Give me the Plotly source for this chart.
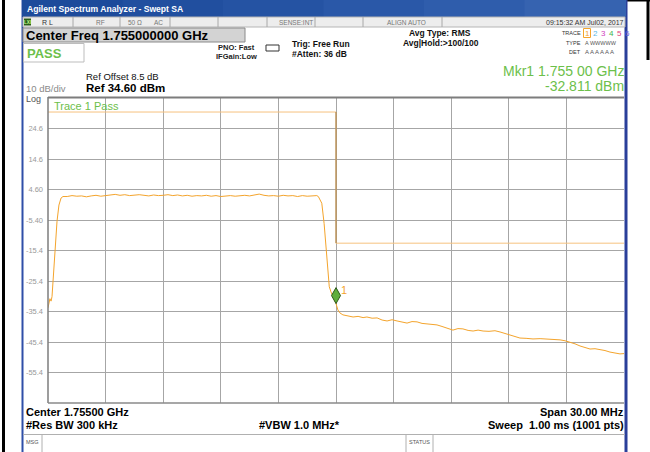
import plotly.graph_objects as go

# ---------------- data ----------------
freq_mhz = [
    1740.00, 1740.05, 1740.10, 1740.16, 1740.21, 1740.26, 1740.36, 1740.47, 1740.57, 1740.68, 1740.78,
    1741.00, 1741.25, 1741.50, 1741.75, 1742.00, 1742.25, 1742.50, 1742.75, 1743.00, 1743.25,
    1743.50, 1743.75, 1744.00, 1744.25, 1744.50, 1744.75, 1745.00, 1745.25, 1745.50, 1745.75,
    1746.00, 1746.25, 1746.50, 1746.75, 1747.00, 1747.25, 1747.50, 1747.75, 1748.00, 1748.25,
    1748.50, 1748.75, 1749.00, 1749.25, 1749.50, 1749.75, 1750.00, 1750.25, 1750.50, 1750.75,
    1751.00, 1751.25, 1751.50, 1751.75, 1752.00, 1752.25, 1752.50, 1752.75, 1753.00, 1753.25,
    1753.50, 1753.75, 1754.00, 1754.08, 1754.17, 1754.26, 1754.38, 1754.48, 1754.55, 1754.65,
    1754.74, 1754.86, 1755.00, 1755.10, 1755.21,
    1755.36, 1755.63, 1755.89, 1756.15, 1756.41, 1756.61, 1756.88, 1757.14, 1757.40, 1757.66,
    1757.92, 1758.18, 1758.44, 1758.70, 1758.96, 1759.22, 1759.48, 1759.74, 1760.00, 1760.26,
    1760.52, 1760.78, 1761.09, 1761.35, 1761.61, 1761.88, 1762.14, 1762.40, 1762.66, 1762.97,
    1763.28, 1763.54, 1763.80, 1764.06, 1764.32, 1764.58, 1764.90, 1765.26, 1765.63, 1765.99,
    1766.30, 1766.67, 1766.93, 1767.19, 1767.45, 1767.71, 1767.97, 1768.23, 1768.49, 1768.75,
    1769.01, 1769.27, 1769.53, 1769.79, 1770.00,
]
level_dbm = [
    -34.2, -31.8, -31.2, -32.0, -30.5, -25.7, -15.0, -5.8, -0.5, 1.8, 2.3,
    2.3, 2.6, 2.4, 2.5, 2.2, 2.5, 2.7, 2.4, 2.6, 2.8,
    3.0, 2.7, 2.9, 2.6, 2.8, 2.9, 2.7, 2.5, 2.8, 2.6,
    2.7, 2.9, 2.6, 2.8, 2.5, 2.7, 2.4, 2.6, 2.5, 2.7,
    2.4, 2.6, 2.3, 2.5, 2.6, 2.4, 2.6, 2.7, 2.5, 2.8,
    3.1, 2.7, 2.5, 2.6, 2.4, 2.7, 2.5, 2.6, 2.3, 2.6,
    2.4, 2.5, 2.6, 2.3, 1.2, 0.1, -6.5, -14.2, -21.8, -27.3,
    -29.0, -30.5, -32.8, -34.9, -35.9,
    -36.5, -36.9, -37.2, -37.0, -37.4, -37.2, -37.6, -37.5, -38.2, -38.5,
    -38.1, -38.5, -38.9, -39.2, -38.7, -38.8, -39.3, -39.5, -39.6, -39.8,
    -40.3, -40.8, -41.5, -41.0, -41.1, -41.6, -41.8, -41.5, -41.8, -41.9,
    -41.7, -42.1, -42.6, -43.1, -43.6, -44.1, -44.2, -44.4, -44.3, -44.4,
    -44.6, -44.7, -45.0, -45.4, -46.0, -46.7, -47.3, -47.7, -47.6, -47.8,
    -48.2, -48.7, -48.9, -49.3, -49.2,
]
limit_freq_mhz = [1740.0, 1755.0, 1755.0, 1770.0]
limit_level_dbm = [30.0, 30.0, -13.0, -13.0]
marker_freq_mhz = 1755.00
marker_level_dbm = -32.811

ref_level = 34.6
db_per_div = 10
y_tick_vals = [24.6, 14.6, 4.6, -5.4, -15.4, -25.4, -35.4, -45.4, -55.4]
y_tick_text = ["24.6", "14.6", "4.60", "-5.40", "-15.4", "-25.4", "-35.4", "-45.4", "-55.4"]
center_ghz = 1.755
span_ghz = 0.030

# ---------------- figure ----------------
W, H = 650, 452
L, R, T, B = 48, 26, 98, 49
PW, PH = W - L - R, H - T - B
FONT = "Liberation Sans, Arial, sans-serif"

def X(px):
    return (px - L) / PW

def Y(py):
    return (H - B - py) / PH

fig = go.Figure()

fig.add_trace(go.Scatter(
    x=[f / 1000 for f in limit_freq_mhz], y=limit_level_dbm, mode="lines",
    line=dict(color="#f6c27e", width=1), hoverinfo="skip"))
fig.add_trace(go.Scatter(
    x=[limit_freq_mhz[1] / 1000, limit_freq_mhz[2] / 1000],
    y=[limit_level_dbm[1], limit_level_dbm[2]], mode="lines",
    line=dict(color="#a07c48", width=1), hoverinfo="skip"))
fig.add_trace(go.Scatter(
    x=[f / 1000 for f in freq_mhz], y=level_dbm, mode="lines",
    line=dict(color="#f4a42c", width=1), hoverinfo="skip"))

shapes = []
ann = []

def rect(x0, y0, x1, y1, fill=None, line=None, lw=1, layer="above"):
    shapes.append(dict(type="rect", xref="paper", yref="paper",
                       x0=X(x0), x1=X(x1), y0=Y(y0), y1=Y(y1),
                       fillcolor=fill if fill else "rgba(0,0,0,0)",
                       line=dict(color=line if line else "rgba(0,0,0,0)", width=lw if line else 0),
                       layer=layer))

def hline(x0, x1, y, color, lw=1):
    shapes.append(dict(type="line", xref="paper", yref="paper", x0=X(x0), x1=X(x1),
                       y0=Y(y), y1=Y(y), line=dict(color=color, width=lw)))

def vline(x, y0, y1, color, lw=1):
    shapes.append(dict(type="line", xref="paper", yref="paper", x0=X(x), x1=X(x),
                       y0=Y(y0), y1=Y(y1), line=dict(color=color, width=lw)))

def txt(x, y, s, size, color="#000000", bold=False, anchor="left", family=FONT):
    ann.append(dict(x=X(x), y=Y(y), xref="paper", yref="paper",
                    text=("<b>%s</b>" % s) if bold else s, showarrow=False,
                    xanchor=anchor, yanchor="middle", borderpad=0,
                    font=dict(size=size, color=color, family=family)))

# outer black frame lines
vline(3.5, 0, 452, "#000000", 3)
vline(648, 0, 60, "#000000", 3)
hline(627, 650, 0.5, "#000000", 2)

# window borders
vline(22.5, 0, 452, "#2f4fa8", 2)
vline(626, 0, 452, "#2a3f9a", 3)

# title bar gradient
cols = ["#1d4b9b", "#214f9f", "#2553a3", "#2a58a8", "#2f5dac", "#3663b0"]
seg = (625 - 22) / len(cols)
for i, c in enumerate(cols):
    rect(22 + i * seg, 0, 22 + (i + 1) * seg + 1, 17, fill=c)
txt(26, 9, "Agilent Spectrum Analyzer - Swept SA", 8.6, "#ffffff", bold=True)

# status row
rect(23, 17, 625, 27, fill="#ededed", line="#b5b5b5", lw=1)
for sx in [73, 120, 170, 218, 267, 315, 363, 442]:
    vline(sx, 17, 27, "#a8a8a8")
rect(24, 18.5, 31, 25.5, fill="#2c5e18")
txt(27.5, 22, "<b>LXI</b>", 4.5, "#c8ff90", anchor="center")
txt(41, 22, "R L", 7, "#333333")
txt(95, 22, "RF", 6.5, "#777777")
txt(127, 22, "50 \u03a9", 6.5, "#777777")
txt(153, 22, "AC", 6.5, "#777777")
txt(314, 22, "SENSE:INT", 6.5, "#777777", anchor="right")
txt(406, 22, "ALIGN AUTO", 6.5, "#777777", anchor="center")
txt(625, 22, "09:15:32 AM Jul02, 2017", 7, "#333333", anchor="right")

# center freq box
rect(23, 28, 245, 42, fill="#d3d3d3", line="#8a8a8a", lw=1)
txt(25, 35.5, "Center Freq 1.755000000 GHz", 13, "#000000", bold=True)

# PASS box
rect(23.5, 43.5, 84, 62, fill="#ffffff", line="#bdbdbd", lw=1)
txt(26, 53, "PASS", 13, "#6cc04a", bold=True)

txt(236, 47, "PNO: Fast", 7.5, "#222222", bold=True, anchor="center")
txt(236, 57, "IFGain:Low", 7.5, "#222222", bold=True, anchor="center")
# trigger icon
shapes.append(dict(type="path", xref="paper", yref="paper",
                   path="M %f %f L %f %f L %f %f L %f %f Z" % (X(266), Y(45), X(279), Y(45), X(279), Y(51), X(266), Y(51)),
                   line=dict(color="#333333", width=1), fillcolor="rgba(0,0,0,0)"))
txt(291, 44, "Trig: Free Run", 8.5, "#111111", bold=True)
txt(291, 54, "#Atten: 36 dB", 8.5, "#111111", bold=True)
txt(440, 33, "Avg Type: RMS", 8.5, "#111111", bold=True, anchor="center")
txt(441, 43, "Avg|Hold:&gt;100/100", 8.5, "#111111", bold=True, anchor="center")

# trace/type/det block
txt(582, 33, "TRACE", 5.5, "#333333", anchor="right")
txt(582, 43, "TYPE", 5.5, "#333333", anchor="right")
txt(582, 52, "DET", 5.5, "#333333", anchor="right")
rect(583.5, 28.5, 590.5, 37.5, line="#f4a42c", lw=1)
dig_cols = ["#f4a42c", "#58b8e8", "#d040c0", "#40b050", "#e04080", "#5a5ae0"]
for i, c in enumerate(dig_cols):
    txt(587 + i * 8, 33, str(i + 1), 8, c, anchor="center")
txt(584, 43, "A WWWWW", 5.5, "#555555")
txt(584, 52, "A A A A A A", 6, "#555555")

# marker readout
txt(625, 71, "Mkr1 1.755 00 GHz", 14, "#6cc04a", anchor="right")
txt(625, 86, "-32.811 dBm", 14, "#6cc04a", anchor="right")

# ref info
txt(85, 77, "Ref Offset 8.5 dB", 9.5, "#111111")
txt(85, 88, "Ref 34.60 dBm", 11.5, "#000000", bold=True)
txt(25, 89, "10 dB/div", 9.5, "#8a8a8a")
txt(25, 98.5, "Log", 9, "#555555")

# plot frame
hline(48, 624, 97.5, "#7d7d7d", 2)
vline(48, 97, 403, "#7d7d7d", 1.5)
hline(48, 624, 403, "#8a8a8a", 1.5)

txt(53, 106, "Trace 1 Pass", 11, "#6cc04a")

# bottom info
txt(25, 412, "Center 1.75500 GHz", 11, "#000000", bold=True)
txt(25, 425, "#Res BW 300 kHz", 11, "#000000", bold=True)
txt(258, 425, "#VBW 1.0 MHz*", 11, "#000000", bold=True)
txt(625, 412, "Span 30.00 MHz", 11, "#000000", bold=True, anchor="right")
txt(625, 425, "Sweep  1.00 ms (1001 pts)", 11, "#000000", bold=True, anchor="right")

# message bar
hline(23, 625, 434.5, "#b0b0b0", 1)
vline(42, 435, 452, "#b0b0b0")
vline(406, 435, 452, "#b0b0b0")
vline(433, 435, 452, "#b0b0b0")
txt(25, 442, "MSG", 5.5, "#555555")
txt(419.5, 442, "STATUS", 5.5, "#555555", anchor="center")

# marker diamond anchored to the marker data point
shapes.append(dict(type="path", xref="x", yref="y", xsizemode="pixel", ysizemode="pixel",
                   xanchor=marker_freq_mhz / 1000, yanchor=marker_level_dbm,
                   path="M 0 0 L 4.5 8 L 0 16 L -4.5 8 Z",
                   fillcolor="#5fae3c", line=dict(color="#2f5a1c", width=1), layer="above"))
ann.append(dict(x=marker_freq_mhz / 1000, y=marker_level_dbm, xref="x", yref="y",
                text="1", showarrow=False, xshift=8, yshift=14, borderpad=0,
                font=dict(size=11, color="#f4a42c", family=FONT)))

fig.update_layout(
    width=W, height=H,
    margin=dict(l=L, r=R, t=T, b=B, pad=0),
    paper_bgcolor="#ffffff", plot_bgcolor="#ffffff",
    showlegend=False,
    shapes=shapes, annotations=ann,
    xaxis=dict(range=[center_ghz - span_ghz / 2, center_ghz + span_ghz / 2],
               tick0=center_ghz - span_ghz / 2, dtick=span_ghz / 10,
               showticklabels=False, ticks="", showgrid=True,
               gridcolor="#a6a6a6", gridwidth=1, zeroline=False, showline=False, fixedrange=True),
    yaxis=dict(range=[ref_level - 10 * db_per_div, ref_level],
               tickmode="array", tickvals=y_tick_vals, ticktext=y_tick_text,
               ticks="", ticklabelstandoff=4, showgrid=True, gridcolor="#a6a6a6", gridwidth=1,
               zeroline=False, showline=False,
               tickfont=dict(size=7.5, color="#999999", family=FONT), fixedrange=True),
)

fig.write_html("out.html", config={"displayModeBar": False},
               post_script="document.body.style.margin='0';document.body.style.overflow='hidden';")
